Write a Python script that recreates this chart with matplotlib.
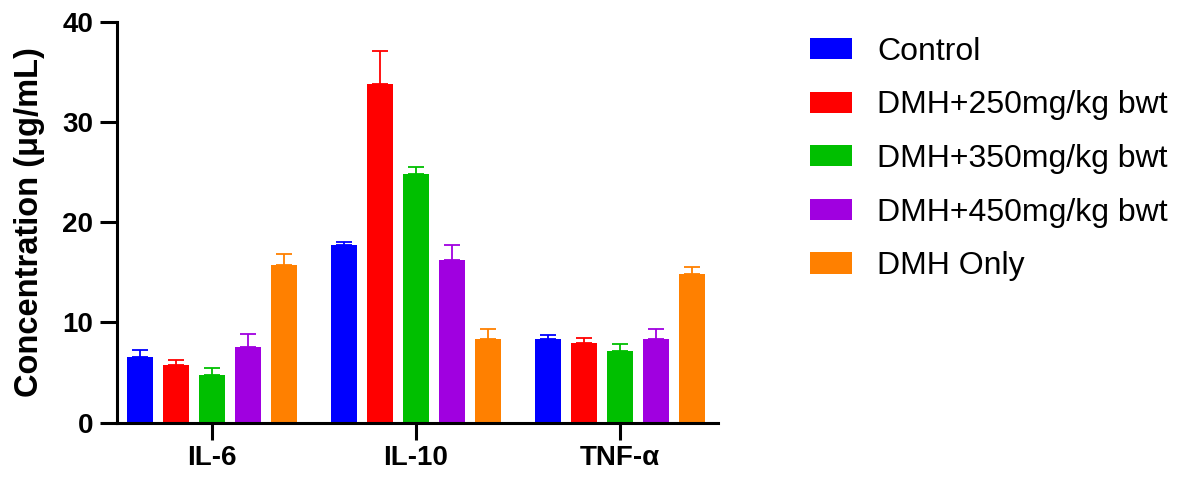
import matplotlib
matplotlib.use("Agg")
import matplotlib.pyplot as plt
import numpy as np

plt.rcParams['font.family'] = ['Liberation Sans', 'DejaVu Sans']

categories = ["IL-6", "IL-10", "TNF-α"]
groups = ["Control", "DMH+250mg/kg bwt", "DMH+350mg/kg bwt", "DMH+450mg/kg bwt", "DMH Only"]
colors = ["#0000FF", "#FF0000", "#00BF00", "#A000E0", "#FF8000"]

control = [6.6, 17.7, 8.4]
dmh250 = [5.8, 33.8, 8.0]
dmh350 = [4.8, 24.8, 7.2]
dmh450 = [7.6, 16.2, 8.4]
dmh_only = [15.7, 8.35, 14.8]

control_err = [0.7, 0.3, 0.3]
dmh250_err = [0.5, 3.3, 0.5]
dmh350_err = [0.7, 0.7, 0.7]
dmh450_err = [1.2, 1.5, 0.9]
dmh_only_err = [1.1, 0.95, 0.7]

values = [control, dmh250, dmh350, dmh450, dmh_only]
errors = [control_err, dmh250_err, dmh350_err, dmh450_err, dmh_only_err]

fig = plt.figure(figsize=(11.86, 4.79), dpi=100)
ax = fig.add_axes([0.0987, 0.1175, 0.5063, 0.8372])

x = np.arange(len(categories))
pitch = 0.1765
width = 0.127
for i, (vals, errs, col, name) in enumerate(zip(values, errors, colors, groups)):
    pos = x + (i - 2) * pitch
    ax.bar(pos, vals, width=width, color=col, label=name, zorder=2)
    ax.errorbar(pos, vals, yerr=[np.zeros(len(errs)), errs], fmt='none',
                ecolor=col, elinewidth=1.3, capsize=5.5, capthick=1.3, zorder=1)

ax.set_xlim(-0.464, 2.48)
ax.set_ylim(0, 40)
ax.set_yticks([0, 10, 20, 30, 40])
ax.set_xticks(x)
ax.set_xticklabels(categories)

for s in ['top', 'right']:
    ax.spines[s].set_visible(False)
for s in ['left', 'bottom']:
    ax.spines[s].set_linewidth(2.2)
ax.tick_params(axis='both', width=2.2, length=12, labelsize=20, direction='out')
ax.tick_params(axis='x', pad=4)
ax.tick_params(axis='y', pad=5)
for lab in ax.get_xticklabels() + ax.get_yticklabels():
    lab.set_fontweight('bold')
ax.set_ylabel("Concentration (μg/mL)", fontsize=23.5, fontweight='bold')
ax.yaxis.set_label_coords(-0.12, 0.5)

fig.legend(loc='upper left', bbox_to_anchor=(0.672, 0.95), frameon=False,
           fontsize=23, handlelength=1.32, handleheight=0.64, handletextpad=0.8,
           labelspacing=0.74, borderaxespad=0)

fig.savefig("out.png", dpi=100)
